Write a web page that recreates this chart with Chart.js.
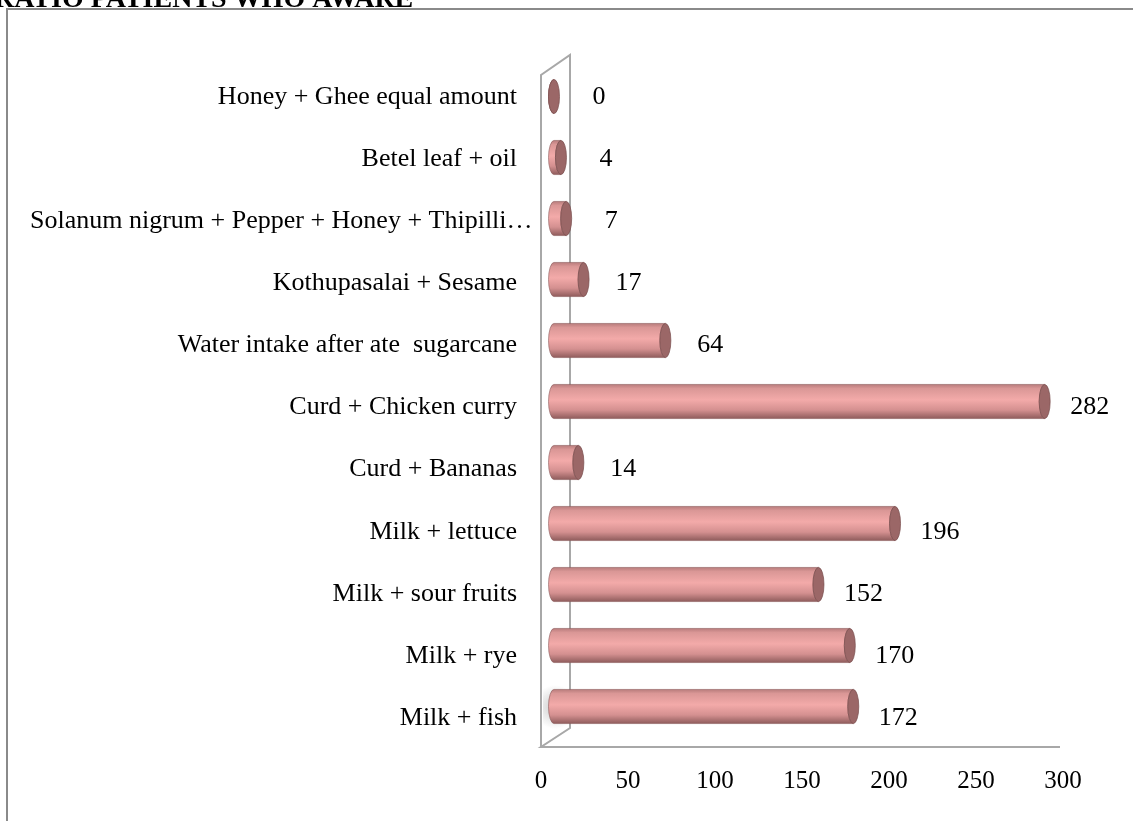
<!DOCTYPE html>
<html>
<head>
<meta charset="utf-8">
<script src="https://cdn.jsdelivr.net/npm/chart.js@4"></script>
<style>
  html, body { margin: 0; padding: 0; background: #fff; }
  #wrap { width: 1133px; height: 821px; position: relative; }
</style>
</head>
<body>
<div id="wrap"><canvas id="chart"></canvas></div>
<script>
// categories listed top to bottom
const categories = [
  "Honey + Ghee equal amount",
  "Betel leaf + oil",
  "Solanum nigrum + Pepper + Honey + Thipilli…",
  "Kothupasalai + Sesame",
  "Water intake after ate  sugarcane",
  "Curd + Chicken curry",
  "Curd + Bananas",
  "Milk + lettuce",
  "Milk + sour fruits",
  "Milk + rye",
  "Milk + fish",
];
const patients = [0, 4, 7, 17, 64, 282, 14, 196, 152, 170, 172];
const xTicks = [0, 50, 100, 150, 200, 250, 300];
const titleText = "RATIO PATIENTS WHO AWARE";

const FONT = "'Liberation Serif', 'Times New Roman', serif";
const DEPTH_X = 29; // 3D depth of the wall/floor
const DEPTH_Y = 19;
const BAR_DX = 13; // bars sit half way into the depth
const BAR_RISE = 12; // bars further down drift up a little (perspective)

// frame, cut-off title and the 3D wall + floor
const wallPlugin = {
  id: "wall",
  beforeDatasetsDraw(chart) {
    const { ctx, chartArea: a } = chart;
    ctx.save();
    // outer frame
    ctx.strokeStyle = "#8a8a8a";
    ctx.lineWidth = 2;
    ctx.beginPath();
    ctx.moveTo(7, 840);
    ctx.lineTo(7, 9);
    ctx.lineTo(1140, 9);
    ctx.stroke();
    // title, clipped by the top of the page
    ctx.fillStyle = "#000";
    ctx.font = "bold 28px " + FONT;
    ctx.textBaseline = "alphabetic";
    ctx.textAlign = "left";
    ctx.fillText(titleText, -6, 7);

    ctx.strokeStyle = "#a8a8a8";
    ctx.lineWidth = 2;
    const floorY = a.bottom - 2;
    const fx = a.left, bx = a.left + DEPTH_X;
    const topF = a.top + 9, topB = topF - DEPTH_Y - 1;
    ctx.beginPath();
    ctx.moveTo(fx, floorY);
    ctx.lineTo(fx, topF);
    ctx.lineTo(bx, topB);
    ctx.lineTo(bx, floorY - DEPTH_Y);
    ctx.lineTo(fx, floorY);
    ctx.lineTo(a.right - 3, floorY);
    ctx.stroke();

    // soft shadow behind the lowest bar's base
    const sh = ctx.createRadialGradient(fx + 14, floorY - 40, 2, fx + 14, floorY - 40, 22);
    sh.addColorStop(0, "rgba(120,120,120,0.35)");
    sh.addColorStop(1, "rgba(120,120,120,0)");
    ctx.fillStyle = sh;
    ctx.fillRect(fx + 2, floorY - 64, 26, 46);
    ctx.restore();
  },
};

// draws each bar as a shaded cylinder, plus value labels and category labels
const cylinderPlugin = {
  id: "cylinders",
  afterDatasetsDraw(chart) {
    const { ctx, chartArea: a } = chart;
    const meta = chart.getDatasetMeta(0);
    const xScale = chart.scales.x;
    const yScale = chart.scales.y;
    ctx.save();
    meta.data.forEach((bar, i) => {
      const r = bar.height / 2;
      const rx = 5.5;
      const y = bar.y - ((bar.y - a.top) / a.height) * BAR_RISE;
      const x0 = bar.base + BAR_DX;
      const x1 = bar.x + BAR_DX;
      // body with the left rounded end
      const g = ctx.createLinearGradient(0, y - r, 0, y + r);
      g.addColorStop(0, "#b87c7c");
      g.addColorStop(0.12, "#da9796");
      g.addColorStop(0.45, "#f3aaa9");
      g.addColorStop(0.75, "#d49090");
      g.addColorStop(1, "#8f5c5c");
      ctx.beginPath();
      ctx.ellipse(x0, y, rx, r, 0, Math.PI / 2, Math.PI * 1.5);
      ctx.lineTo(x1, y - r);
      ctx.ellipse(x1, y, rx, r, 0, -Math.PI / 2, Math.PI / 2, true);
      ctx.closePath();
      ctx.fillStyle = g;
      ctx.fill();
      ctx.strokeStyle = "rgba(140,90,90,0.6)";
      ctx.lineWidth = 1;
      ctx.stroke();
      // end cap
      ctx.beginPath();
      ctx.ellipse(x1, y, rx, r, 0, 0, Math.PI * 2);
      ctx.fillStyle = "#9b6767";
      ctx.fill();
      ctx.strokeStyle = "rgba(120,75,75,0.7)";
      ctx.stroke();

      // value label
      ctx.fillStyle = "#000";
      ctx.font = "26px " + FONT;
      ctx.textAlign = "center";
      ctx.textBaseline = "middle";
      ctx.fillText(String(patients[i]), xScale.getPixelForValue(patients[i]) + 58, yScale.getPixelForValue(i));
    });

    // category labels: right aligned, long ones spill from the left margin
    ctx.font = "26px " + FONT;
    ctx.textAlign = "left";
    ctx.textBaseline = "middle";
    const rightEdge = a.left - 24;
    categories.forEach((c, i) => {
      const w = ctx.measureText(c).width;
      const x = Math.max(30, rightEdge - w);
      ctx.fillText(c, x, yScale.getPixelForValue(i));
    });
    ctx.restore();
  },
};

new Chart(document.getElementById("chart"), {
  type: "bar",
  data: {
    labels: categories,
    datasets: [
      {
        label: "Patients",
        data: patients,
        backgroundColor: "rgba(0,0,0,0)",
        borderWidth: 0,
        barPercentage: 0.55,
        categoryPercentage: 1,
      },
    ],
  },
  options: {
    indexAxis: "y",
    responsive: true,
    maintainAspectRatio: false,
    animation: false,
    layout: {
      padding: { left: 541, right: 70, top: 66, bottom: 0 },
    },
    plugins: {
      legend: { display: false },
      tooltip: { enabled: false },
    },
    scales: {
      x: {
        min: 0,
        max: 300,
        afterBuildTicks: (scale) => {
          scale.ticks = xTicks.map((v) => ({ value: v }));
        },
        afterFit: (scale) => {
          scale.height = 72;
        },
        grid: { display: false, drawTicks: false },
        border: { display: false },
        ticks: {
          color: "#000",
          padding: 17,
          font: { family: FONT, size: 25 },
        },
      },
      y: {
        display: false,
      },
    },
  },
  plugins: [wallPlugin, cylinderPlugin],
});
</script>
</body>
</html>
